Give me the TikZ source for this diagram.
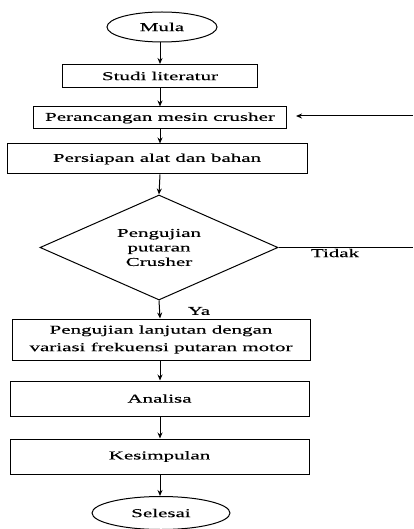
\documentclass[tikz,border=0pt]{standalone}
\usepackage{fontspec}
\setmainfont{Liberation Serif}[FakeStretch=1.75,FakeBold=0.4]
\usetikzlibrary{shapes.geometric,arrows.meta}

\begin{document}
\begin{tikzpicture}[x=1pt,y=-1pt,
	font=\fontsize{12}{14.5}\selectfont,
	kotak/.style={draw,line width=1pt,inner sep=0pt},
	oval/.style={draw,ellipse,line width=1pt,inner sep=0pt},
	panah/.style={line width=1pt,-{Stealth[length=6pt,width=5pt]}}]
	\useasboundingbox (0, 0) rectangle (413, 529);
	%Start
		\node [oval,minimum width=110pt,minimum height=30pt] (mula) at (162, 27) {Mula};
	%Boxes
		%Studi literatur
		\node [kotak,minimum width=195pt,minimum height=23pt] (studi) at (160, 76) {Studi literatur};
		%Perancangan
		\node [kotak,minimum width=253pt,minimum height=22pt] (rancang) at (160, 118) {Perancangan mesin crusher};
		%Persiapan
		\node [kotak,minimum width=300pt,minimum height=30pt] (siap) at (157, 159) {Persiapan alat dan bahan};
	%Decision
		\node [draw,diamond,line width=1pt,inner sep=0pt,shape aspect=2.27,
			minimum width=238pt,minimum height=105pt,align=center] (uji) at (159, 247.5)
			{Pengujian\\putaran\\Crusher};
	%Boxes after decision
		%Pengujian lanjutan
		\node [kotak,minimum width=298pt,minimum height=41pt,align=center] (lanjut) at (161, 339.5)
			{Pengujian lanjutan dengan\\[3pt]variasi frekuensi putaran motor};
		%Analisa
		\node [kotak,minimum width=299pt,minimum height=35pt] (analisa) at (159.5, 398.5) {Analisa};
		%Kesimpulan
		\node [kotak,minimum width=299pt,minimum height=35pt] (simpul) at (159.5, 456.5) {Kesimpulan};
	%End
		\node [oval,minimum width=138pt,minimum height=33pt] (selesai) at (161, 513) {Selesai};
	%Down arrows
		\coordinate (poros) at (160, 0);
		\draw [panah] (poros |- mula.south) -- (poros |- studi.north);
		\draw [panah] (poros |- studi.south) -- (poros |- rancang.north);
		\draw [panah] (poros |- rancang.south) -- (poros |- siap.north);
		\draw [panah] (poros |- siap.south) -- (uji.north);
		\draw [panah] (uji.south) -- (poros |- lanjut.north);
		\draw [panah] (poros |- lanjut.south) -- (poros |- analisa.north);
		\draw [panah] (poros |- analisa.south) -- (poros |- simpul.north);
		\draw [panah] (poros |- simpul.south) -- (poros |- selesai.north);
	%Tidak line
		\coordinate (kanan) at (413, 247.5);
		\draw [line width=1pt] (uji.east) -- (kanan);
		\node (tidak) at (335, 253) {Tidak};
	%Back arrow
		\coordinate (balik) at (413, 116);
		\draw [panah,shorten >=9pt] (balik) -- (rancang.east |- balik);
	%Ya label
		\node (ya) at (199, 311) {Ya};
\end{tikzpicture}
\end{document}
